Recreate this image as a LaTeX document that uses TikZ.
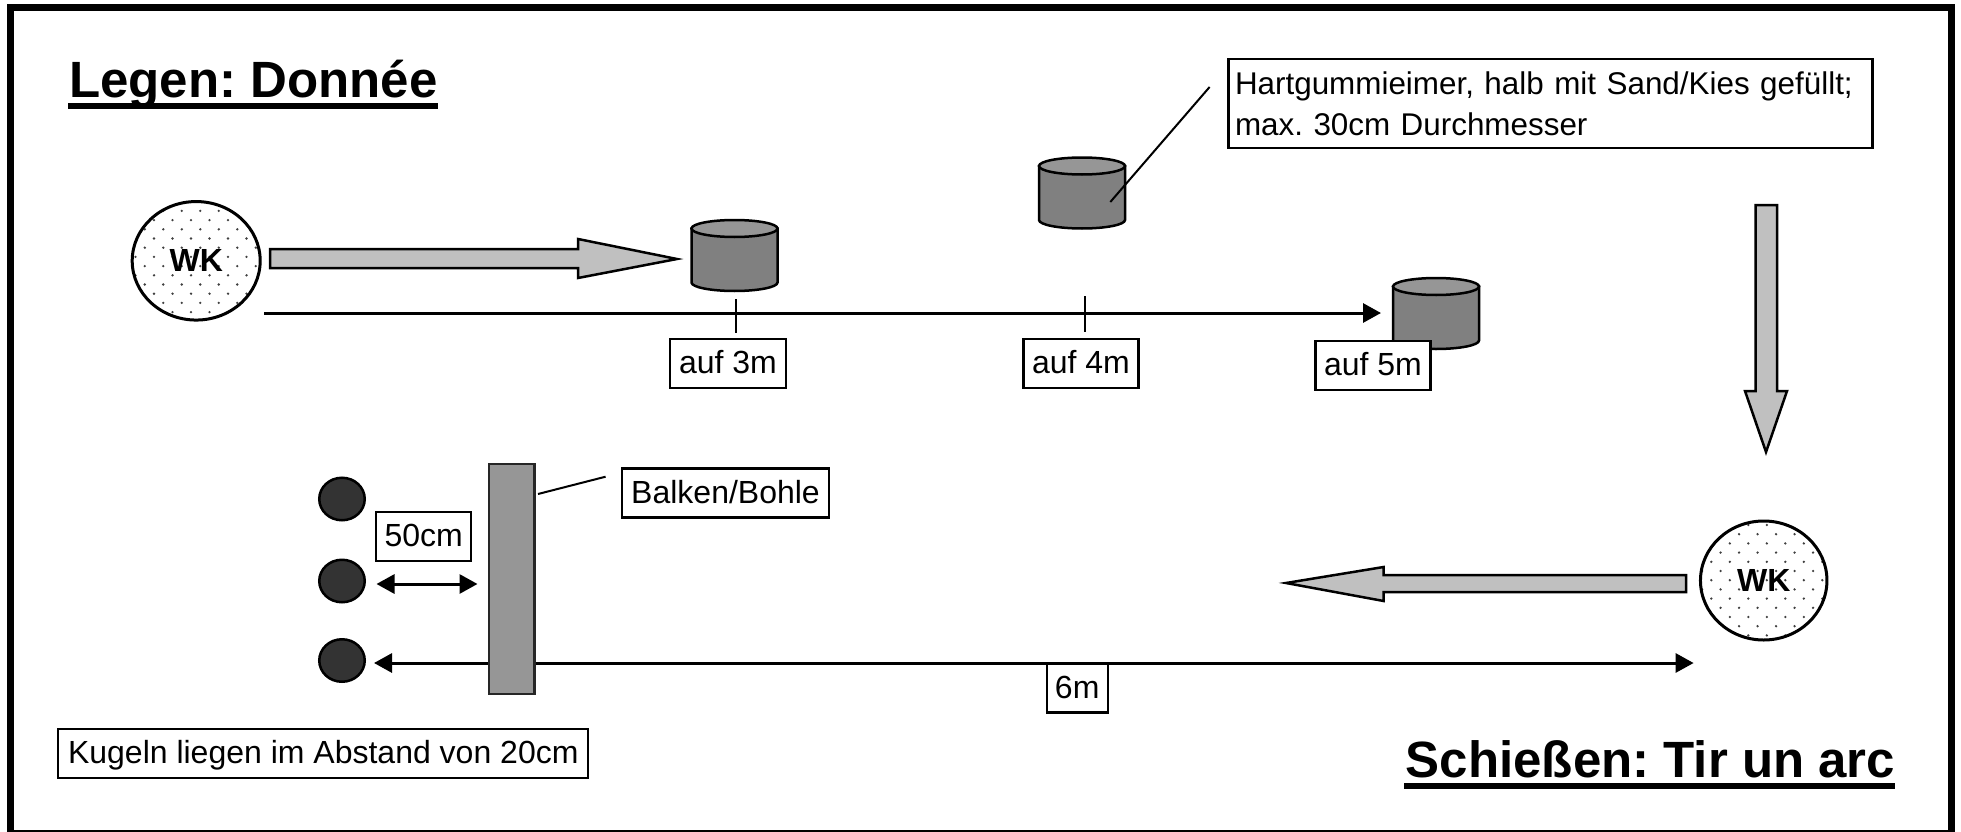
\documentclass[tikz,border=0pt]{standalone}
\usepackage{fontspec}
\setmainfont{Liberation Sans}
\usetikzlibrary{arrows.meta,shapes.geometric}
\frenchspacing
\definecolor{bodygray}{HTML}{808080}
\definecolor{lidgray}{HTML}{969696}
\definecolor{arrowgray}{HTML}{C0C0C0}
\definecolor{ballgray}{HTML}{333333}
\definecolor{dotgray}{HTML}{404040}
\tikzset{
  labelbox/.style={draw=black,fill=white,line width=2.3pt,inner sep=0pt,rectangle,
    font=\frenchspacing\fontsize{32}{38}\selectfont,text height=22pt,text depth=2pt},
  title/.style={anchor=base west,inner sep=0pt,font=\frenchspacing\fontsize{51}{58}\selectfont\bfseries},
  wknode/.style={ellipse,draw=black,line width=3pt,inner sep=0pt,font=\fontsize{32}{36}\selectfont\bfseries},
  blockarrow/.style={draw=black,fill=arrowgray,line width=2.5pt,miter limit=10},
  dimline/.style={draw=black,line width=3pt},
  thinline/.style={draw=black,line width=2pt},
  tipa/.style={-{Triangle[length=18pt,width=19pt]}},
  tipb/.style={{Triangle[length=18pt,width=19pt]}-{Triangle[length=18pt,width=19pt]}},
  ball/.style={ellipse,draw=black,fill=ballgray,line width=2.5pt,minimum width=45.5pt,minimum height=42.5pt,inner sep=0pt},
  beam/.style={rectangle,draw=black!85,fill=lidgray,line width=2.5pt,inner sep=0pt,minimum width=45.5pt,minimum height=230pt},
}
% bucket: centre x, top-ellipse centre y
\newcommand{\bucket}[2]{%
  \path[draw=black,fill=bodygray,line width=2.5pt]
    (#1-43,#2) -- (#1-43,#2+54) arc[start angle=180,end angle=0,x radius=43,y radius=8.5] -- (#1+43,#2) -- cycle;
  \path[draw=black,fill=lidgray,line width=2.5pt] (#1,#2) ellipse[x radius=43,y radius=8.5];
}
% dot pattern: ellipse centre x,y, radii x,y, lattice origin x,y
\newcommand{\wkdots}[6]{%
  \begin{scope}
    \clip (#1,#2) ellipse[x radius=#3,y radius=#4];
    \foreach \m in {-8,...,8}{
      \foreach \k in {-5,...,5}{
        \fill[dotgray] ({#5+18.5*\k},{#6+18.4*\m}) circle[radius=1.3];
        \fill[dotgray] ({#5+18.5*\k-9.25},{#6+18.4*\m+9.2}) circle[radius=1.3];
      }
    }
  \end{scope}
}
\begin{document}
\begin{tikzpicture}[x=1pt,y=-1pt]
\path[use as bounding box,clip] (0,0) rectangle (1961,832);
\fill[white] (0,0) rectangle (1961,832);
% frame
\draw[black,line width=7pt] (10.5,7.5) rectangle (1951.5,833);

% titles
\node[title] (legen) at (69,98) {Legen: Donnée};
\fill[black] (68,103) rectangle (438,109);
\node[title] (schiessen) at (1405.6,777.7) {Schießen: Tir un arc};
\fill[black] (1404,783) rectangle (1894.6,789);

% throwing circle top
\wkdots{196.2}{261.2}{64}{59.25}{191}{201.7}
\node[wknode,minimum width=128pt,minimum height=118.5pt] (wk1) at (196.2,260.8) {WK};

% block arrows
\draw[blockarrow] (270,249) -- (578,249) -- (578,239) -- (677,259) -- (578,278) -- (578,268) -- (270,268) -- cycle;
\draw[blockarrow] (1755.5,205) -- (1777,205) -- (1777,391) -- (1787,391) -- (1766,452) -- (1745,391) -- (1755.5,391) -- cycle;
\draw[blockarrow] (1686,575) -- (1383.6,575) -- (1383.6,567) -- (1286,583) -- (1383.6,601) -- (1383.6,592) -- (1686,592) -- cycle;

% buckets
\bucket{734.5}{228.5}
\bucket{1082}{166}
\bucket{1436}{286.5}

% distance line top
\coordinate (l1a) at (264,313);
\coordinate (l1b) at (1381,313);
\draw[dimline,tipa] (l1a) -- (l1b);

\node[labelbox,minimum width=115.5pt,minimum height=49pt] (a3) at (728,363.2) {auf 3m};
\node[labelbox,minimum width=115pt,minimum height=49pt] (a4) at (1081,363.2) {auf 4m};
\node[labelbox,minimum width=115pt,minimum height=49.5pt] (a5) at (1373,365.5) {auf 5m};
\coordinate (t1) at (736,299);
\coordinate (t1b) at (736,333);
\coordinate (t2) at (1084.6,296);
\coordinate (t2b) at (1084.6,332);
\draw[thinline] (t1) -- (t1b);
\draw[thinline] (t2) -- (t2b);

% callout
\node[labelbox,minimum width=644pt,minimum height=89.5pt,text width=631pt,align=left,
  text height=,text depth=,font=\frenchspacing\fontsize{31.4}{41}\selectfont] (hart) at (1550.5,103.5)
  {Hartgummieimer, halb mit Sand/Kies gefüllt;\\max. 30cm Durchmesser};
\coordinate (h1) at (1209.6,87);
\coordinate (h2) at (1110.3,202);
\draw[thinline] (h1) -- (h2);

% lower circle
\wkdots{1763.7}{581}{63.25}{59.5}{1748.3}{525}
\node[wknode,minimum width=126.5pt,minimum height=119pt] (wk2) at (1763.7,580.5) {WK};

% distance line, beam, balls
\coordinate (l2a) at (374,663);
\coordinate (l2b) at (1693.6,663);
\draw[dimline,tipb] (l2a) -- (l2b);
\node[beam] (beam) at (511.5,579) {};
\node[ball] (b1) at (342,499) {};
\node[ball] (b2) at (342,581) {};
\node[ball] (b3) at (342,660.5) {};

\coordinate (d1) at (376.5,584);
\coordinate (d2) at (477.5,584);
\draw[dimline,tipb] (d1) -- (d2);

\node[labelbox,minimum width=95pt,minimum height=49.5pt] (cm) at (423.7,536.4) {50cm};
\node[labelbox,minimum width=207.5pt,minimum height=49pt] (balken) at (725.5,493) {Balken/Bohle};
\coordinate (bl1) at (538,494);
\coordinate (bl2) at (605.6,476.7);
\draw[thinline] (bl1) -- (bl2);
\node[labelbox,minimum width=61pt,minimum height=49pt] (six) at (1077.2,688) {6m};
\node[labelbox,minimum width=530pt,minimum height=49.5pt] (kugeln) at (323.3,753.5) {Kugeln liegen im Abstand von 20cm};
\end{tikzpicture}
\end{document}
